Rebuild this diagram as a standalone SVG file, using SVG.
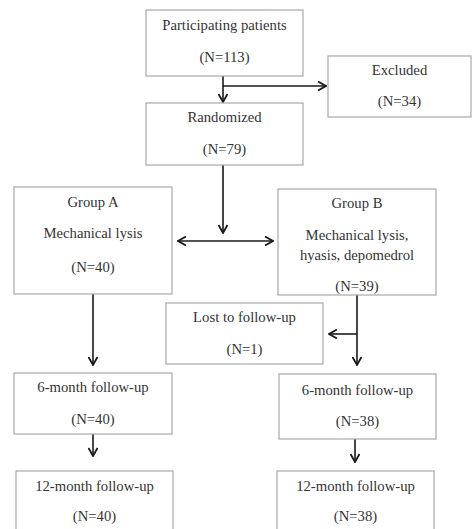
<svg xmlns="http://www.w3.org/2000/svg" width="472" height="529" viewBox="0 0 472 529">
  <defs>
    <style>
      .box { fill: #ffffff; stroke: #a8a8a8; stroke-width: 1.2; }
      .t { font-family: "Liberation Serif", "Times New Roman", serif; font-size: 14.7px; fill: #333333; text-anchor: middle; }
      .ln { fill: none; stroke: #1a1a1a; stroke-width: 1.6; }
    </style>
    <marker id="arr" viewBox="0 0 10 10" refX="9" refY="5" markerWidth="10" markerHeight="10" markerUnits="userSpaceOnUse" orient="auto-start-reverse">
      <path d="M1,0.5 L9,5 L1,9.5" fill="none" stroke="#1a1a1a" stroke-width="1.8"/>
    </marker>
  </defs>
  <rect width="472" height="529" fill="#ffffff"/>

  <g id="connectors">
    <line class="ln" x1="223" y1="76" x2="223" y2="102" marker-end="url(#arr)"/>
    <line class="ln" x1="223" y1="86" x2="326" y2="86" marker-end="url(#arr)"/>
    <line class="ln" x1="223" y1="165" x2="223" y2="233" marker-end="url(#arr)"/>
    <line class="ln" x1="178" y1="241" x2="273" y2="241" marker-start="url(#arr)" marker-end="url(#arr)"/>
    <line class="ln" x1="93" y1="294" x2="93" y2="365" marker-end="url(#arr)"/>
    <line class="ln" x1="357" y1="295" x2="357" y2="365" marker-end="url(#arr)"/>
    <line class="ln" x1="357" y1="334" x2="329" y2="334" marker-end="url(#arr)"/>
    <line class="ln" x1="93" y1="434" x2="93" y2="456" marker-end="url(#arr)"/>
    <line class="ln" x1="355" y1="439" x2="355" y2="462" marker-end="url(#arr)"/>
  </g>

  <g id="participating">
    <rect class="box" x="146" y="10" width="157" height="66"/>
    <text class="t" x="224.5" y="30">Participating patients</text>
    <text class="t" x="224.5" y="62">(N=113)</text>
  </g>

  <g id="excluded">
    <rect class="box" x="328" y="56" width="143" height="61"/>
    <text class="t" x="399.5" y="75">Excluded</text>
    <text class="t" x="399.5" y="106">(N=34)</text>
  </g>

  <g id="randomized">
    <rect class="box" x="146" y="103" width="157" height="62"/>
    <text class="t" x="224.5" y="122">Randomized</text>
    <text class="t" x="224.5" y="154">(N=79)</text>
  </g>

  <g id="group-a">
    <rect class="box" x="14" y="187" width="158" height="107"/>
    <text class="t" x="93" y="207">Group A</text>
    <text class="t" x="93" y="238">Mechanical lysis</text>
    <text class="t" x="93" y="272">(N=40)</text>
  </g>

  <g id="group-b">
    <rect class="box" x="278" y="189" width="158" height="106"/>
    <text class="t" x="357" y="208">Group B</text>
    <text class="t" x="357" y="240">Mechanical lysis,</text>
    <text class="t" x="357" y="260">hyasis, depomedrol</text>
    <text class="t" x="357" y="291">(N=39)</text>
  </g>

  <g id="lost">
    <rect class="box" x="166" y="303" width="157" height="61"/>
    <text class="t" x="244.5" y="322">Lost to follow-up</text>
    <text class="t" x="244.5" y="354">(N=1)</text>
  </g>

  <g id="a-6month">
    <rect class="box" x="14" y="373" width="158" height="61"/>
    <text class="t" x="93" y="392">6-month follow-up</text>
    <text class="t" x="93" y="424">(N=40)</text>
  </g>

  <g id="b-6month">
    <rect class="box" x="279" y="374" width="157" height="65"/>
    <text class="t" x="357.5" y="395">6-month follow-up</text>
    <text class="t" x="357.5" y="426">(N=38)</text>
  </g>

  <g id="a-12month">
    <rect class="box" x="16" y="471" width="157" height="70"/>
    <text class="t" x="94.5" y="491">12-month follow-up</text>
    <text class="t" x="94.5" y="521">(N=40)</text>
  </g>

  <g id="b-12month">
    <rect class="box" x="277" y="471" width="157" height="70"/>
    <text class="t" x="355.5" y="491">12-month follow-up</text>
    <text class="t" x="355.5" y="521">(N=38)</text>
  </g>
</svg>
